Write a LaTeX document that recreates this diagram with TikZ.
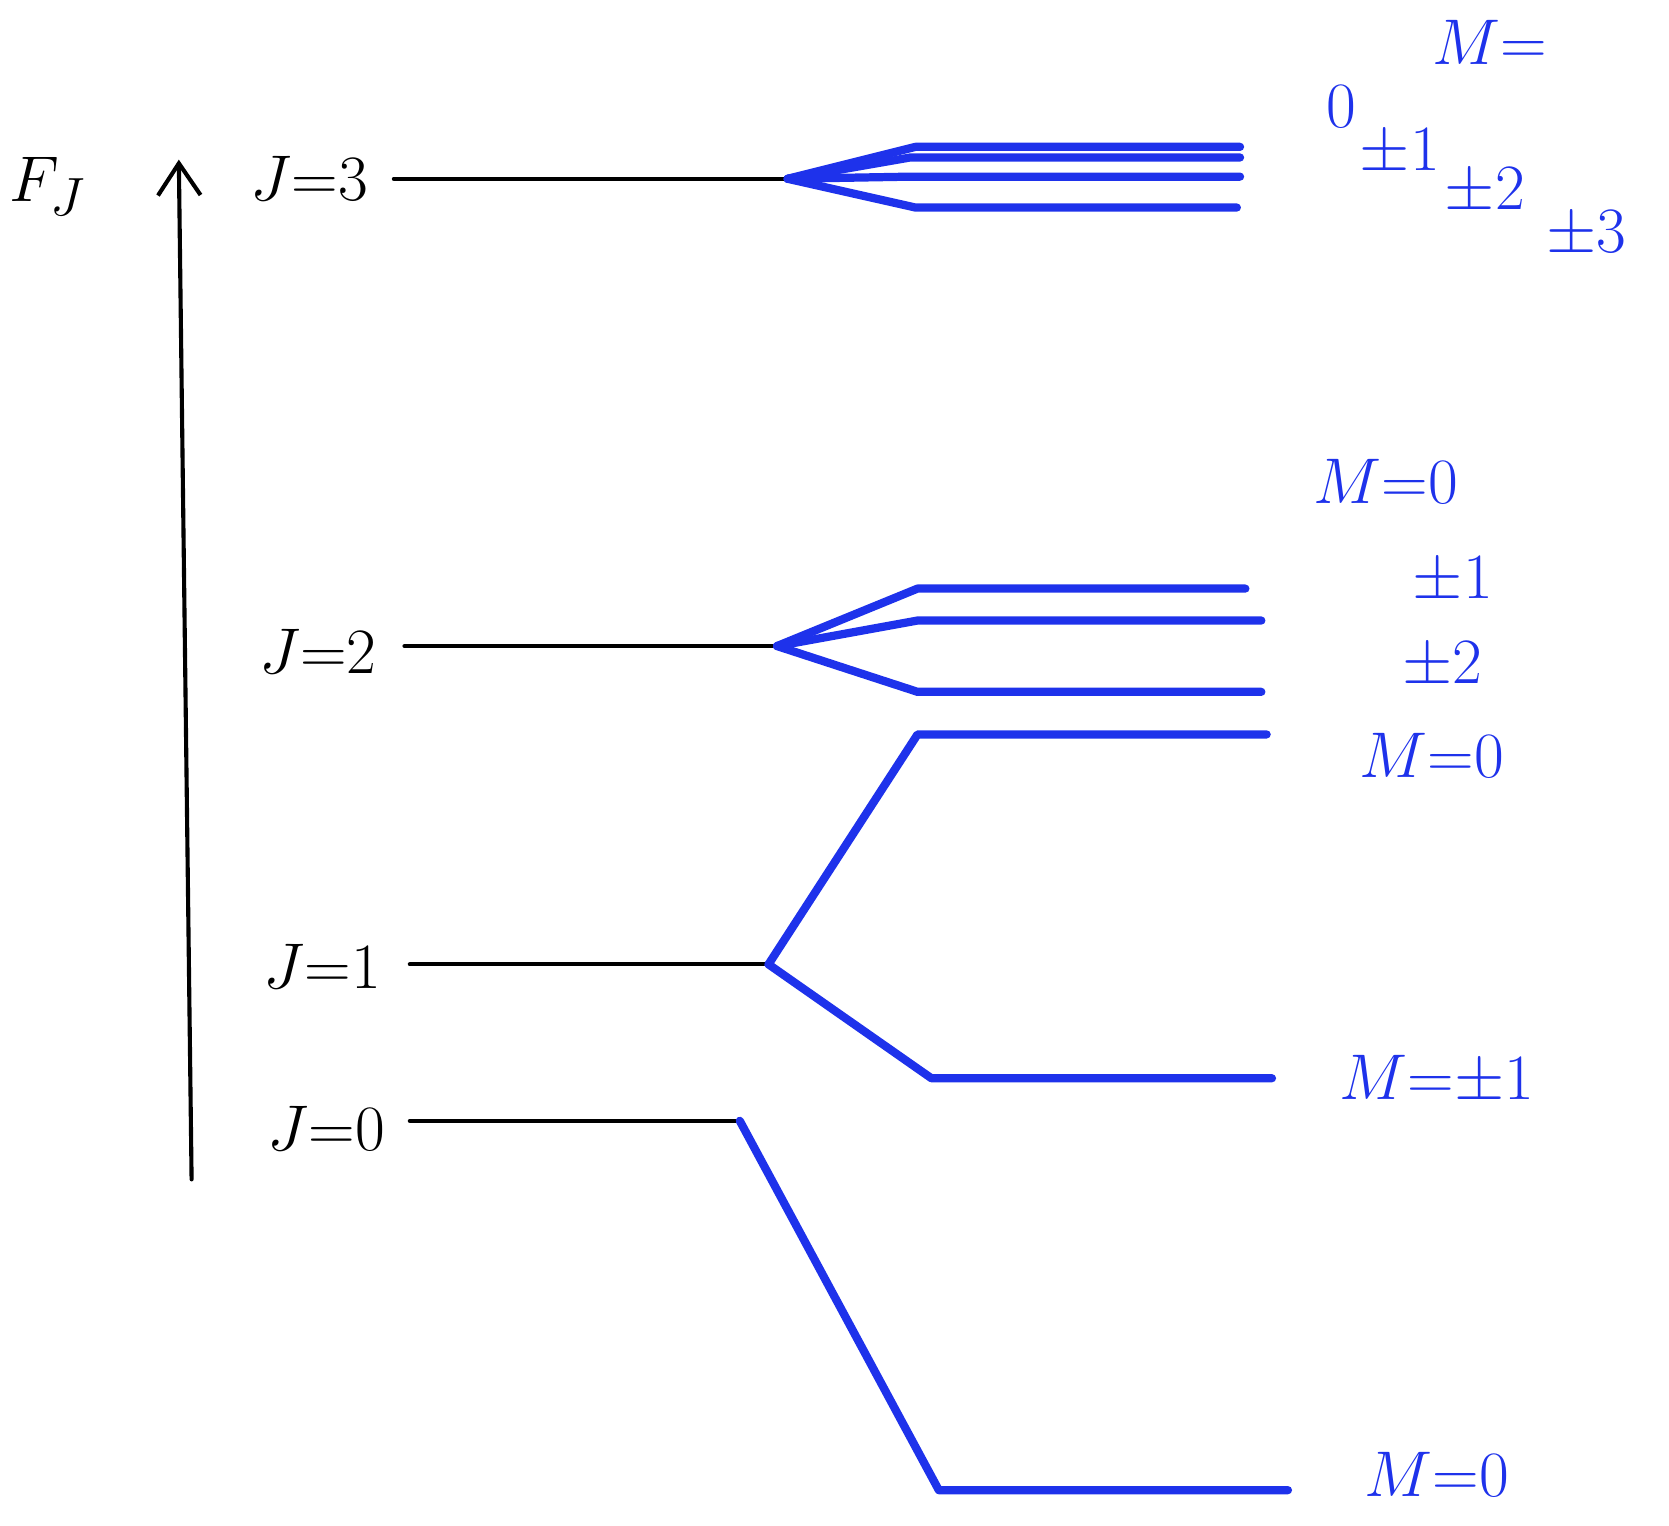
\documentclass[tikz,border=0pt]{standalone}
\usepackage{amsmath}
\usepackage{tikz}
\usetikzlibrary{arrows.meta}
\usepackage{xcolor}

\definecolor{penblue}{RGB}{30,50,235}

\tikzset{
  level/.style={line width=1.1pt, black},
  sublevel/.style={line width=2.2pt, penblue},
  lab/.style={font=\fontsize{19}{23}\selectfont, anchor=east, inner sep=1pt},
  mlab/.style={font=\fontsize{19}{23}\selectfont, text=penblue},
  mslab/.style={font=\fontsize{17}{20}\selectfont, text=penblue, inner sep=1pt},
}

\begin{document}
\begin{tikzpicture}[line cap=round, line join=round]
  \useasboundingbox (0,0) rectangle (15.68,14.33);

  % Energy axis
  \coordinate (Ebot) at (1.80,3.25);
  \coordinate (Etop) at (1.68,12.83);
  \draw[line width=1.1pt, -{Straight Barb[length=3mm,width=4mm]}] (Ebot) -- (Etop);
  \node[font=\fontsize{19}{23}\selectfont] (FJ) at (0.45,12.58) {$F_J$};

  % Points
  \coordinate (J3a) at (3.70,12.65);
  \coordinate (J3b) at (7.40,12.65);
  \coordinate (J2a) at (3.80,8.26);
  \coordinate (J2b) at (7.30,8.26);
  \coordinate (J1a) at (3.85,5.27);
  \coordinate (J1b) at (7.22,5.27);
  \coordinate (J0a) at (3.85,3.80);
  \coordinate (J0b) at (6.95,3.80);

  % Rotational levels
  \draw[level] (J3a) -- (J3b);
  \draw[level] (J2a) -- (J2b);
  \draw[level] (J1a) -- (J1b);
  \draw[level] (J0a) -- (J0b);

  % Labels
  \node[lab] (lJ3) at (3.50,12.65) {$J{=}3$};
  \node[lab] (lJ2) at (3.58,8.21) {$J{=}2$};
  \node[lab] (lJ1) at (3.62,5.25) {$J{=}1$};
  \node[lab] (lJ0) at (3.66,3.73) {$J{=}0$};

  % Splitting of J=3
  \coordinate (s30a) at (8.60,12.95);  \coordinate (s30b) at (11.65,12.95);
  \coordinate (s31a) at (8.55,12.85);  \coordinate (s31b) at (11.65,12.85);
  \coordinate (s32a) at (8.55,12.67);  \coordinate (s32b) at (11.65,12.67);
  \coordinate (s33a) at (8.60,12.38);  \coordinate (s33b) at (11.62,12.38);
  \foreach \k in {0,1,2,3}
    \draw[sublevel] (J3b) -- (s3\k a) -- (s3\k b);

  % Splitting of J=2
  \coordinate (s20a) at (8.62,8.80);  \coordinate (s20b) at (11.70,8.80);
  \coordinate (s21a) at (8.62,8.50);  \coordinate (s21b) at (11.85,8.50);
  \coordinate (s22a) at (8.62,7.83);  \coordinate (s22b) at (11.85,7.83);
  \foreach \k in {0,1,2}
    \draw[sublevel] (J2b) -- (s2\k a) -- (s2\k b);

  % Splitting of J=1
  \coordinate (s10a) at (8.62,7.43);  \coordinate (s10b) at (11.90,7.43);
  \coordinate (s11a) at (8.75,4.20);  \coordinate (s11b) at (11.95,4.20);
  \draw[sublevel] (J1b) -- (s10a) -- (s10b);
  \draw[sublevel] (J1b) -- (s11a) -- (s11b);

  % Shift of J=0
  \coordinate (s00a) at (8.82,0.33);  \coordinate (s00b) at (12.10,0.33);
  \draw[sublevel] (J0b) -- (s00a) -- (s00b);

  % M labels
  \node[mlab] (m3) at (14.00,13.93) {$M{=}$};
  \node[mslab] (m30) at (12.60,13.33) {$0$};
  \node[mslab] (m31) at (13.15,12.90) {$\pm1$};
  \node[mslab] (m32) at (13.95,12.53) {$\pm2$};
  \node[mslab] (m33) at (14.90,12.13) {$\pm3$};

  \node[mlab] (m20) at (13.02,9.81) {$M{=}0$};
  \node[mlab] (m21) at (13.65,8.88) {$\pm1$};
  \node[mlab] (m22) at (13.55,8.08) {$\pm2$};
  \node[mlab] (m10) at (13.45,7.23) {$M{=}0$};

  \node[mlab] (m11) at (13.50,4.18) {$M{=}{\pm}1$};
  \node[mlab] (m00) at (13.50,0.48) {$M{=}0$};
\end{tikzpicture}
\end{document}
